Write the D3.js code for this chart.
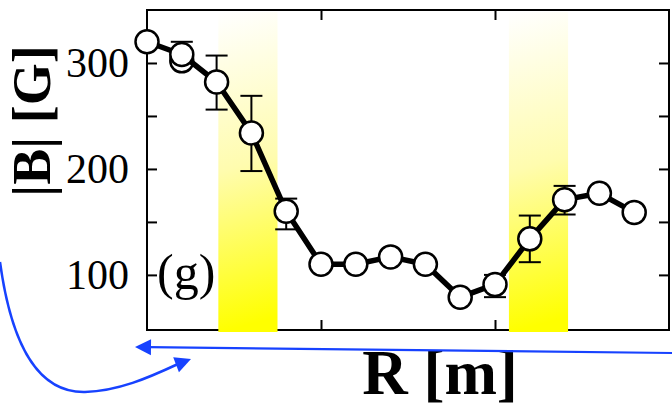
<!DOCTYPE html>
<html>
<head>
<meta charset="utf-8">
<script src="https://cdn.jsdelivr.net/npm/d3@7/dist/d3.min.js"></script>
<style>
  html, body { margin: 0; padding: 0; background: #fff; }
  svg { display: block; }
</style>
</head>
<body>
<svg id="chart" width="672" height="406"></svg>
<script>
// Field magnitude |B| along the radius R
const radius   = [0, 0.2, 0.4, 0.6, 0.8, 1.0, 1.2, 1.4, 1.6, 1.8, 2.0, 2.2, 2.4, 2.6, 2.8];
const fieldB   = [320, 308, 282, 234, 160, 110, 110, 117, 110, 79, 91, 134, 171, 177, 159];

// Error bars: index into the series, lower and upper bound
const errIndex = [1, 2, 3, 4, 10, 11, 12];
const errLow   = [297, 256, 198, 143, 79, 112, 157];
const errHigh  = [320, 307, 269, 172, 100, 156, 184];

// Second, overlapping reading at the same radius
const extraR   = [0.2];
const extraB   = [302];

// Shaded zones along R (start, end)
const zoneStart = [0.41, 2.08];
const zoneEnd   = [0.75, 2.42];

// Axis ticks
const yTicks      = [100, 150, 200, 250, 300];
const yTickLabels = ["100", "200", "300"];
const xTicks      = [1, 2];

const panelLabel = "(g)";
const xTitle = "R [m]";
const yTitle = "|B| [G]";

const svg = d3.select("#chart");
const L = 147, R = 669, T = 10, B = 330;

const x = d3.scaleLinear().domain([0, 3]).range([L, R]);
const y = d3.scaleLinear().domain([48, 350]).range([B, T]);

const serif = "'Liberation Serif', 'Times New Roman', Times, serif";
const blue = "#1742ff";

// gradient for the shaded zones: pale at the top, full yellow at the bottom
const defs = svg.append("defs");
const grad = defs.append("linearGradient")
  .attr("id", "zoneFill")
  .attr("x1", 0).attr("y1", 0).attr("x2", 0.05).attr("y2", 1);
grad.append("stop").attr("offset", "0").attr("stop-color", "#ffffff");
grad.append("stop").attr("offset", "0.5").attr("stop-color", "#fffcae");
grad.append("stop").attr("offset", "1").attr("stop-color", "#ffff00");

// frame
svg.append("rect")
  .attr("x", L).attr("y", T).attr("width", R - L).attr("height", B - T)
  .attr("fill", "none").attr("stroke", "#000").attr("stroke-width", 2);

// axes with inward ticks
const tickStyle = g => {
  g.select(".domain").remove();
  g.selectAll(".tick line").attr("stroke", "#000").attr("stroke-width", 2);
};

svg.append("g").attr("transform", `translate(${L},0)`)
  .call(d3.axisLeft(y).tickValues(yTicks).tickSize(-10).tickPadding(18)
    .tickFormat(d => yTickLabels.includes(String(d)) ? String(d) : ""))
  .call(tickStyle)
  .call(g => g.selectAll(".tick text")
    .attr("font-family", serif).attr("font-size", 42).attr("fill", "#000"));

svg.append("g").attr("transform", `translate(${R},0)`)
  .call(d3.axisRight(y).tickValues(yTicks).tickSize(-10).tickFormat(""))
  .call(tickStyle);

svg.append("g").attr("transform", `translate(0,${B})`)
  .call(d3.axisBottom(x).tickValues(xTicks).tickSize(-10).tickFormat(""))
  .call(tickStyle);

svg.append("g").attr("transform", `translate(0,${T})`)
  .call(d3.axisTop(x).tickValues(xTicks).tickSize(-10).tickFormat(""))
  .call(tickStyle);

// shaded zones
svg.append("g").selectAll("rect")
  .data(zoneStart.map((s, i) => ({ s, e: zoneEnd[i] })))
  .join("rect")
  .attr("x", d => x(d.s))
  .attr("width", d => x(d.e) - x(d.s))
  .attr("y", T + 2)
  .attr("height", B - T)
  .attr("fill", "url(#zoneFill)");

const pts = radius.map((r, i) => ({ r, b: fieldB[i] }));

// error bars
const errs = errIndex.map((k, i) => ({ r: radius[k], lo: errLow[i], hi: errHigh[i] }));
const eg = svg.append("g").attr("stroke", "#000").attr("stroke-width", 2).attr("fill", "none");
errs.forEach(d => {
  const cx = x(d.r);
  eg.append("line").attr("x1", cx).attr("x2", cx).attr("y1", y(d.lo)).attr("y2", y(d.hi));
  eg.append("line").attr("x1", cx - 11).attr("x2", cx + 11).attr("y1", y(d.lo)).attr("y2", y(d.lo));
  eg.append("line").attr("x1", cx - 11).attr("x2", cx + 11).attr("y1", y(d.hi)).attr("y2", y(d.hi));
});

// overlapping reading (behind)
svg.append("g").selectAll("circle")
  .data(extraR.map((r, i) => ({ r, b: extraB[i] })))
  .join("circle")
  .attr("cx", d => x(d.r)).attr("cy", d => y(d.b)).attr("r", 11.5)
  .attr("fill", "#fff").attr("stroke", "#000").attr("stroke-width", 2.5);

// connecting line
svg.append("path")
  .datum(pts)
  .attr("d", d3.line().x(d => x(d.r)).y(d => y(d.b)))
  .attr("fill", "none").attr("stroke", "#000").attr("stroke-width", 5.5)
  .attr("stroke-linejoin", "round");

// markers
svg.append("g").selectAll("circle")
  .data(pts)
  .join("circle")
  .attr("cx", d => x(d.r)).attr("cy", d => y(d.b)).attr("r", 11.5)
  .attr("fill", "#fff").attr("stroke", "#000").attr("stroke-width", 2.5);

// panel label
svg.append("text")
  .attr("x", L + 10).attr("y", 289)
  .attr("font-family", serif).attr("font-size", 50)
  .text(panelLabel);

// axis titles
svg.append("text")
  .attr("x", 440).attr("y", 394)
  .attr("text-anchor", "middle")
  .attr("font-family", serif).attr("font-size", 63).attr("font-weight", "bold")
  .text(xTitle);

svg.append("text")
  .attr("transform", "translate(50,121) rotate(-90)")
  .attr("text-anchor", "middle")
  .attr("font-family", serif).attr("font-size", 54).attr("font-weight", "bold")
  .text(yTitle);

// blue annotation arrows
function arrowHead(tipX, tipY, angle, len, half) {
  const ca = Math.cos(angle), sa = Math.sin(angle);
  const bx = tipX - len * ca, by = tipY - len * sa;
  return `M${tipX},${tipY}L${bx - half * sa},${by + half * ca}L${bx + half * sa},${by - half * ca}Z`;
}

const hTip = [x(0) - 12, 347], hStart = [672, 353];
const hAng = Math.atan2(hTip[1] - hStart[1], hTip[0] - hStart[0]);
svg.append("line")
  .attr("x1", hStart[0]).attr("y1", hStart[1])
  .attr("x2", hTip[0] - 14 * Math.cos(hAng)).attr("y2", hTip[1] - 14 * Math.sin(hAng))
  .attr("stroke", blue).attr("stroke-width", 2.2);
svg.append("path").attr("d", arrowHead(hTip[0], hTip[1], hAng, 16, 8)).attr("fill", blue);

svg.append("path")
  .attr("d", "M0,262 C12,350 40,393 85,392 C118,391 148,378 178,364")
  .attr("fill", "none").attr("stroke", blue).attr("stroke-width", 2.5);
svg.append("path").attr("d", arrowHead(191, 359, Math.atan2(-5, 13), 16, 8)).attr("fill", blue);
</script>
</body>
</html>
